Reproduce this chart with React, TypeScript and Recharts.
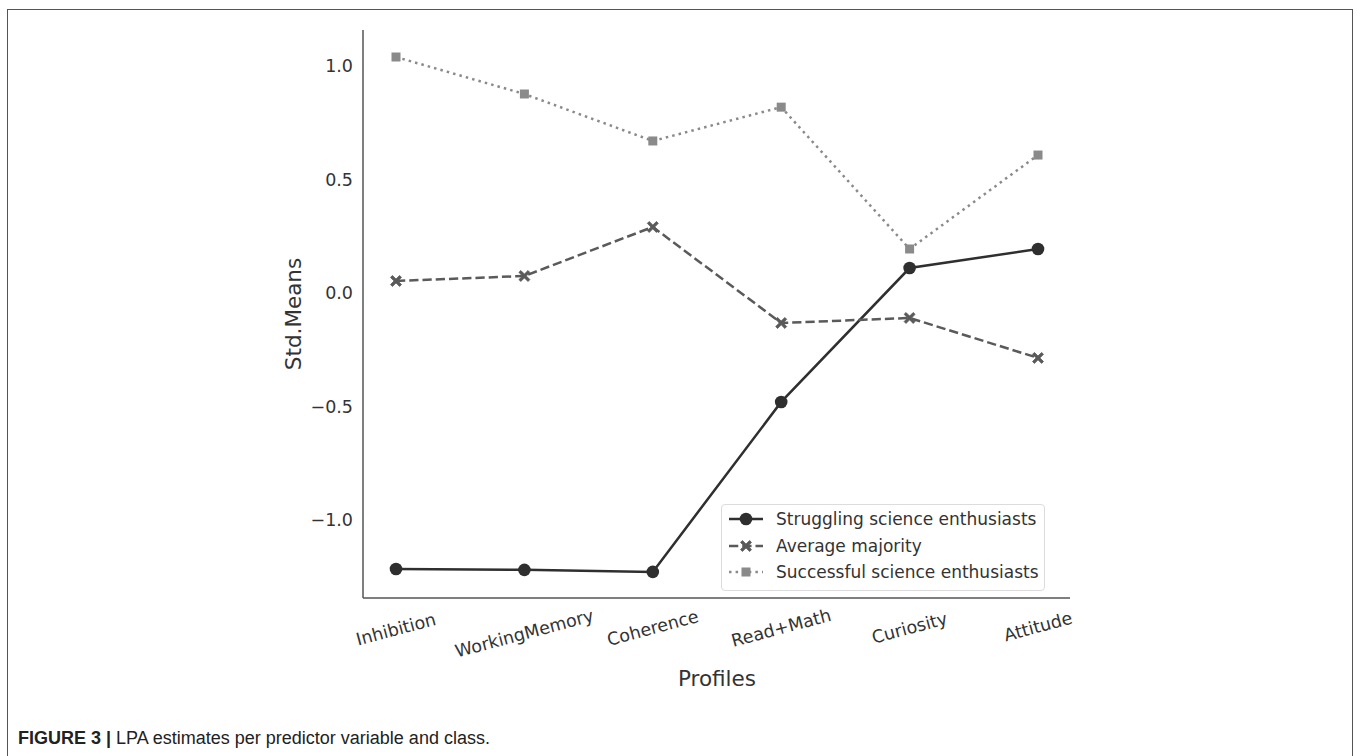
import React from "react";
import { LineChart, Line, XAxis, YAxis, Legend } from "recharts";

// profile variables on the x axis
const profiles = ["Inhibition", "WorkingMemory", "Coherence", "Read+Math", "Curiosity", "Attitude"];

// std. means per class
const struggling = [-1.216, -1.22, -1.229, -0.48, 0.11, 0.194];
const average = [0.053, 0.075, 0.291, -0.132, -0.11, -0.286];
const successful = [1.04, 0.877, 0.67, 0.819, 0.194, 0.608];

const yTicks = [-1, -0.5, 0, 0.5, 1];

const seriesInfo = [
  { key: "struggling", name: "Struggling science enthusiasts", color: "#2f2f2f", dash: undefined, marker: "circle" },
  { key: "average", name: "Average majority", color: "#5a5a5a", dash: "9.25 4", marker: "x" },
  { key: "successful", name: "Successful science enthusiasts", color: "#8a8a8a", dash: "2.5 4.1", marker: "square" },
];

const data = profiles.map((p, i) => ({
  profile: p,
  struggling: struggling[i],
  average: average[i],
  successful: successful[i],
}));

const FONT = "'DejaVu Sans', sans-serif";
const TEXT = "#333";

const Marker = ({ type, cx, cy, color }: { type: string; cx: number; cy: number; color: string }) => {
  if (type === "circle") return <circle cx={cx} cy={cy} r={6.3} fill={color} />;
  if (type === "square") return <rect x={cx - 4.5} y={cy - 4.5} width={9} height={9} fill={color} />;
  // filled X
  const a = 5.5;
  const t = 1.9;
  const pts = [
    [0, -t], [a - t, -a], [a, -a + t], [t, 0], [a, a - t], [a - t, a],
    [0, t], [-a + t, a], [-a, a - t], [-t, 0], [-a, -a + t], [-a + t, -a],
  ];
  return (
    <polygon
      points={pts.map(([x, y]) => `${cx + x},${cy + y}`).join(" ")}
      fill={color}
      stroke={color}
      strokeWidth={0.8}
    />
  );
};

const makeDot = (type: string, color: string) => (props: any) => (
  <Marker key={`${type}-${props.index}`} type={type} cx={props.cx} cy={props.cy} color={color} />
);

const fmt = (v: number) => (v < 0 ? "\u2212" + Math.abs(v).toFixed(1) : v.toFixed(1));

const XTick = (props: any) => {
  const { x, y, payload } = props;
  const fs = 17.5;
  const w = payload.value.length * 0.6 * fs;
  const rad = (15 * Math.PI) / 180;
  const cy = y + 8 + (w * Math.sin(rad) + fs * 1.15 * Math.cos(rad)) / 2;
  return (
    <text
      x={x}
      y={cy}
      transform={`rotate(-15 ${x} ${cy})`}
      textAnchor="middle"
      dominantBaseline="central"
      fontFamily={FONT}
      fontSize={fs}
      fill={TEXT}
    >
      {payload.value}
    </text>
  );
};

const LegendBox = () => (
  <div
    style={{
      border: "1px solid #dcdcdc",
      borderRadius: 4,
      padding: "1px 5px 4px 7px",
      background: "#fff",
      fontFamily: FONT,
      fontSize: 17,
      color: TEXT,
    }}
  >
    {seriesInfo.map((s) => (
      <div key={s.key} style={{ display: "flex", alignItems: "center", height: 26.5, whiteSpace: "nowrap" }}>
        <svg width={34} height={20} style={{ marginRight: 13 }}>
          <line x1={0} y1={10} x2={34} y2={10} stroke={s.color} strokeWidth={2.5} strokeDasharray={s.dash} />
          <Marker type={s.marker} cx={17} cy={10} color={s.color} />
        </svg>
        <span>{s.name}</span>
      </div>
    ))}
  </div>
);

export default function App() {
  return (
    <div style={{ position: "absolute", left: 0, top: 0, width: 1357, height: 756, background: "#fff", overflow: "hidden" }}>
      <div
        style={{
          position: "absolute",
          left: 7,
          top: 9,
          width: 1344,
          height: 800,
          border: "1.5px solid #555",
        }}
      />
      <div style={{ position: "absolute", left: 0, top: 0 }}>
        <LineChart width={1357} height={700} data={data} margin={{ top: 30, right: 287, bottom: 12, left: 303 }}>
          <XAxis
            dataKey="profile"
            padding={{ left: 33, right: 32 }}
            tickLine={false}
            tickSize={0}
            tickMargin={0}
            height={90}
            axisLine={{ stroke: "#555", strokeWidth: 1.5 }}
            tick={<XTick />}
            interval={0}
          />
          <YAxis
            type="number"
            domain={[-1.344, 1.159]}
            ticks={yTicks}
            allowDataOverflow
            width={60}
            tickLine={false}
            tickSize={0}
            tickMargin={10}
            tickFormatter={fmt}
            axisLine={{ stroke: "#555", strokeWidth: 1.5 }}
            tick={{ fontFamily: FONT, fontSize: 17.5, fill: TEXT }}
          />
          <Legend
            layout="horizontal"
            verticalAlign="middle"
            align="center"
            content={() => <LegendBox />}
            wrapperStyle={{ left: 721, top: 504, width: "auto", height: "auto" }}
          />
          {seriesInfo.map((s) => (
            <Line
              key={s.key}
              dataKey={s.key}
              name={s.name}
              type="linear"
              stroke={s.color}
              strokeWidth={2.5}
              strokeDasharray={s.dash}
              dot={makeDot(s.marker, s.color)}
              activeDot={false}
              isAnimationActive={false}
            />
          ))}
        </LineChart>
      </div>
      <div
        style={{
          position: "absolute",
          left: 293,
          top: 314,
          transform: "translate(-50%, -50%) rotate(-90deg)",
          fontFamily: FONT,
          fontSize: 21.5,
          color: TEXT,
          whiteSpace: "nowrap",
        }}
      >
        Std.Means
      </div>
      <div
        style={{
          position: "absolute",
          left: 717,
          top: 678,
          transform: "translate(-50%, -50%)",
          fontFamily: FONT,
          fontSize: 21.5,
          color: TEXT,
          whiteSpace: "nowrap",
        }}
      >
        Profiles
      </div>
      <div
        style={{
          position: "absolute",
          left: 18,
          top: 738,
          transform: "translateY(-50%)",
          fontFamily: "'Liberation Sans', Arial, sans-serif",
          fontSize: 18,
          color: "#222",
          whiteSpace: "nowrap",
        }}
      >
        <b>FIGURE 3 |</b> LPA estimates per predictor variable and class.
      </div>
    </div>
  );
}
